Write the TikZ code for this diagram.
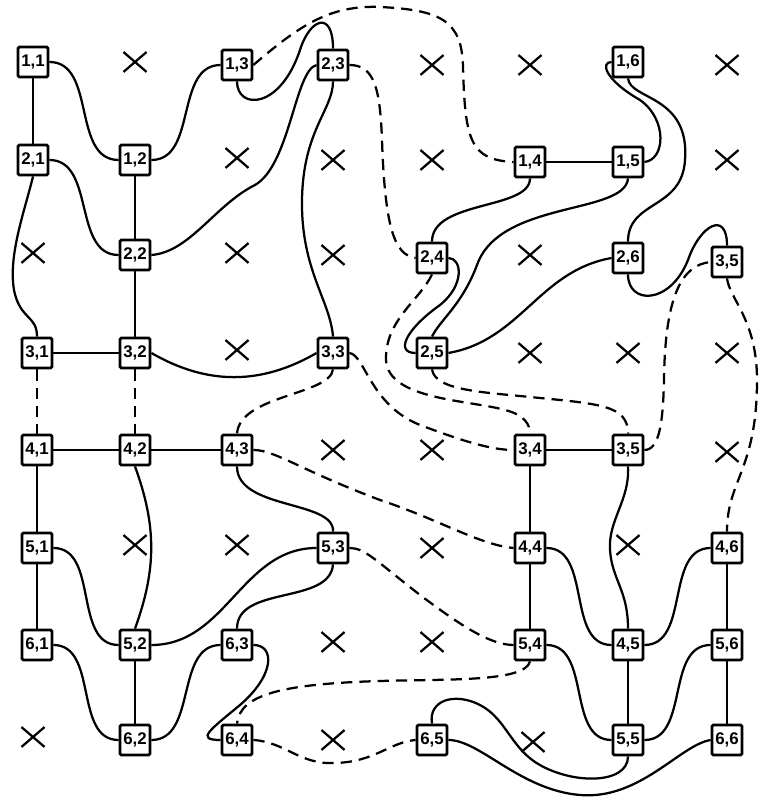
\documentclass[tikz,border=0pt]{standalone}
\usepackage{fontspec}
\setsansfont{Liberation Sans}
\usetikzlibrary{shapes.misc,backgrounds}

\begin{document}
\begin{tikzpicture}[
    x=0.025cm,y=0.025cm,
    cell/.style = {rectangle,draw,line width=2pt,rounded corners=1pt,fill=white,
                   minimum size=0.75cm,inner sep=0pt,font=\sffamily\bfseries\fontsize{12}{12}\selectfont},
    void/.style = {cross out,draw,line width=1.6pt,minimum width=0.52cm,
                   minimum height=0.44cm,inner sep=0pt},
    wr/.style   = {line width=1.6pt},
    dwr/.style  = {line width=1.6pt,dash pattern=on 8pt off 5pt},
  ]
  \useasboundingbox (0,0) rectangle (759,800);

  % row 1
  \node[cell] (n11)  at (33,738)  {1,1};
  \node[void] (o12)  at (135,738) {};
  \node[cell] (n13)  at (237,735) {1,3};
  \node[cell] (n23)  at (333,735) {2,3};
  \node[void] (o15)  at (432,735) {};
  \node[void] (o16)  at (530,735) {};
  \node[cell] (n16)  at (628,738) {1,6};
  \node[void] (o18)  at (727,735) {};
  % row 2
  \node[cell] (n21)  at (33,640)  {2,1};
  \node[cell] (n12)  at (135,640) {1,2};
  \node[void] (o23)  at (237,642) {};
  \node[void] (o24)  at (333,640) {};
  \node[void] (o25)  at (432,640) {};
  \node[cell] (n14)  at (530,638) {1,4};
  \node[cell] (n15)  at (628,638) {1,5};
  \node[void] (o28)  at (727,640) {};
  % row 3
  \node[void] (o31)  at (33,547)  {};
  \node[cell] (n22)  at (135,545) {2,2};
  \node[void] (o33)  at (237,547) {};
  \node[void] (o34)  at (333,545) {};
  \node[cell] (n24)  at (432,542) {2,4};
  \node[void] (o36)  at (530,545) {};
  \node[cell] (n26)  at (628,542) {2,6};
  \node[cell] (n35r) at (727,538) {3,5};
  % row 4
  \node[cell] (n31)  at (37,447)  {3,1};
  \node[cell] (n32)  at (135,447) {3,2};
  \node[void] (o43)  at (237,450) {};
  \node[cell] (n33)  at (333,447) {3,3};
  \node[cell] (n25)  at (432,447) {2,5};
  \node[void] (o46)  at (530,447) {};
  \node[void] (o47)  at (628,447) {};
  \node[void] (o48)  at (727,447) {};
  % row 5
  \node[cell] (n41)  at (37,350)  {4,1};
  \node[cell] (n42)  at (135,350) {4,2};
  \node[cell] (n43)  at (237,350) {4,3};
  \node[void] (o54)  at (333,350) {};
  \node[void] (o55)  at (432,350) {};
  \node[cell] (n34)  at (530,350) {3,4};
  \node[cell] (n35)  at (628,350) {3,5};
  \node[void] (o58)  at (727,348) {};
  % row 6
  \node[cell] (n51)  at (37,252)  {5,1};
  \node[void] (o62)  at (135,255) {};
  \node[void] (o63)  at (237,255) {};
  \node[cell] (n53)  at (333,252) {5,3};
  \node[void] (o65)  at (432,252) {};
  \node[cell] (n44)  at (530,252) {4,4};
  \node[void] (o67)  at (628,255) {};
  \node[cell] (n46)  at (727,252) {4,6};
  % row 7
  \node[cell] (n61)  at (37,155)  {6,1};
  \node[cell] (n52)  at (135,155) {5,2};
  \node[cell] (n63)  at (237,155) {6,3};
  \node[void] (o74)  at (333,158) {};
  \node[void] (o75)  at (432,158) {};
  \node[cell] (n54)  at (530,155) {5,4};
  \node[cell] (n45)  at (628,155) {4,5};
  \node[cell] (n56)  at (727,155) {5,6};
  % row 8
  \node[void] (o81)  at (33,63)   {};
  \node[cell] (n62)  at (135,60)  {6,2};
  \node[cell] (n64)  at (237,60)  {6,4};
  \node[void] (o84)  at (333,60)  {};
  \node[cell] (n65)  at (432,60)  {6,5};
  \node[void] (o86)  at (533,58)  {};
  \node[cell] (n55)  at (628,60)  {5,5};
  \node[cell] (n66)  at (727,60)  {6,6};

  \begin{scope}[on background layer]
  % left block
  \draw[wr] (n11) -- (n21);
  \draw[wr] (n11.east) to[out=0,in=180] (n12.west);
  \draw[wr] (n12.east) to[out=0,in=180] (n13.west);
  \draw[wr] (n12) -- (n22);
  \draw[wr] (n21.east) to[out=0,in=180] (n22.west);
  \draw[wr] (n22.east) .. controls (190,548) and (215,595) .. (255,615)
                       .. controls (290,635) and (295,730) .. (n23.west);
  \draw[wr] (n13.south) .. controls (237,690) and (280,690) .. (300,750)
                        .. controls (310,782) and (333,790) .. (n23.north);
  \draw[wr] (n23.south) .. controls (333,690) and (303,670) .. (302,600)
                        .. controls (301,530) and (330,500) .. (n33.north);
  \draw[wr] (n21.south) .. controls (25,590) and (8,545) .. (14,510)
                        .. controls (20,480) and (37,485) .. (n31.north);
  \draw[wr] (n22) -- (n32);
  \draw[wr] (n31) -- (n32);
  \draw[wr] (n32.east) to[out=-30,in=210] (n33.west);
  \draw[dwr] (n31) -- (n41);
  \draw[dwr] (n32) -- (n42);
  \draw[wr] (n41) -- (n42) -- (n43);
  \draw[wr] (n41) -- (n51);
  \draw[wr] (n42.south) to[out=-70,in=70] (n52.north);
  \draw[wr] (n43.south) .. controls (237,290) and (335,300) .. (n53.north);
  \draw[wr] (n51) -- (n61);
  \draw[wr] (n52) -- (n62);
  \draw[wr] (n51.east) to[out=0,in=180] (n52.west);
  \draw[wr] (n52.east) to[out=0,in=180] (n53.west);
  \draw[wr] (n61.east) to[out=0,in=180] (n62.west);
  \draw[wr] (n62.east) to[out=0,in=180] (n63.west);
  \draw[wr] (n53.south) .. controls (330,195) and (237,215) .. (n63.north);
  \draw[wr] (n63.east) .. controls (275,155) and (275,125) .. (240,95)
                       .. controls (210,70) and (195,60) .. (n64.west);
  % right block
  \draw[wr] (n14) -- (n15);
  \draw[wr] (n15.east) .. controls (665,640) and (668,680) .. (640,700)
                       .. controls (605,720) and (600,738) .. (n16.west);
  \draw[wr] (n16.south) .. controls (630,700) and (690,705) .. (685,640)
                        .. controls (682,590) and (628,600) .. (n26.north);
  \draw[wr] (n14.south) .. controls (530,590) and (432,600) .. (n24.north);
  \draw[wr] (n15.south) .. controls (625,585) and (500,600) .. (477,535)
                        .. controls (462,495) and (440,480) .. (n25.north);
  \draw[wr] (n24.east) .. controls (462,542) and (465,515) .. (440,495)
                       .. controls (405,470) and (395,447) .. (n25.west);
  \draw[wr] (n25.east) to[out=10,in=190] (n26.west);
  \draw[wr] (n26.south) .. controls (628,495) and (670,495) .. (688,540)
                        .. controls (700,575) and (727,590) .. (n35r.north);
  \draw[wr] (n34) -- (n35);
  \draw[wr] (n34) -- (n44);
  \draw[wr] (n44) -- (n54);
  \draw[wr] (n45) -- (n55);
  \draw[wr] (n46) -- (n56);
  \draw[wr] (n56) -- (n66);
  \draw[wr] (n35.south) .. controls (630,300) and (608,280) .. (610,250)
                        .. controls (612,220) and (628,210) .. (n45.north);
  \draw[wr] (n44.east) to[out=0,in=180] (n45.west);
  \draw[wr] (n45.east) to[out=0,in=180] (n46.west);
  \draw[wr] (n54.east) to[out=0,in=180] (n55.west);
  \draw[wr] (n55.east) to[out=0,in=180] (n56.west);
  \draw[wr] (n65.north) .. controls (428,100) and (455,108) .. (480,95)
                        .. controls (505,82) and (510,55) .. (535,38)
                        .. controls (570,15) and (628,15) .. (n55.south);
  \draw[wr] (n65.east) .. controls (480,60) and (520,10) .. (580,5)
                       .. controls (640,0) and (680,55) .. (n66.west);
  % dashed links
  \draw[dwr] (n13.east) .. controls (300,775) and (330,795) .. (380,793)
                        .. controls (440,790) and (462,780) .. (463,733)
                        .. controls (465,660) and (470,640) .. (n14.west);
  \draw[dwr] (n23.east) .. controls (375,735) and (380,710) .. (382,660)
                        .. controls (385,570) and (395,545) .. (n24.west);
  \draw[dwr] (n24.south) .. controls (420,500) and (385,480) .. (386,440)
                         .. controls (388,400) and (470,400) .. (505,390)
                         .. controls (525,385) and (530,375) .. (n34.north);
  \draw[dwr] (n33.east) .. controls (365,445) and (370,395) .. (420,375)
                        .. controls (460,360) and (490,350) .. (n34.west);
  \draw[dwr] (n25.south) .. controls (435,410) and (480,408) .. (530,403)
                         .. controls (600,396) and (628,395) .. (n35.north);
  \draw[dwr] (n35.east) .. controls (660,350) and (663,380) .. (664,420)
                        .. controls (665,500) and (680,535) .. (n35r.west);
  \draw[dwr] (n35r.south) .. controls (730,500) and (757,480) .. (757,420)
                          .. controls (757,330) and (727,320) .. (n46.north);
  \draw[dwr] (n33.south) .. controls (330,405) and (240,405) .. (n43.north);
  \draw[dwr] (n43.east) .. controls (275,350) and (300,330) .. (380,300)
                        .. controls (440,280) and (480,255) .. (n44.west);
  \draw[dwr] (n53.east) .. controls (365,252) and (375,240) .. (420,205)
                        .. controls (460,175) and (490,155) .. (n54.west);
  \draw[dwr] (n54.south) .. controls (525,118) and (450,121) .. (380,119)
                         .. controls (280,116) and (240,105) .. (n64.north);
  \draw[dwr] (n64.east) .. controls (285,58) and (300,35) .. (335,37)
                        .. controls (375,38) and (390,58) .. (n65.west);
  \end{scope}

\end{tikzpicture}
\end{document}
